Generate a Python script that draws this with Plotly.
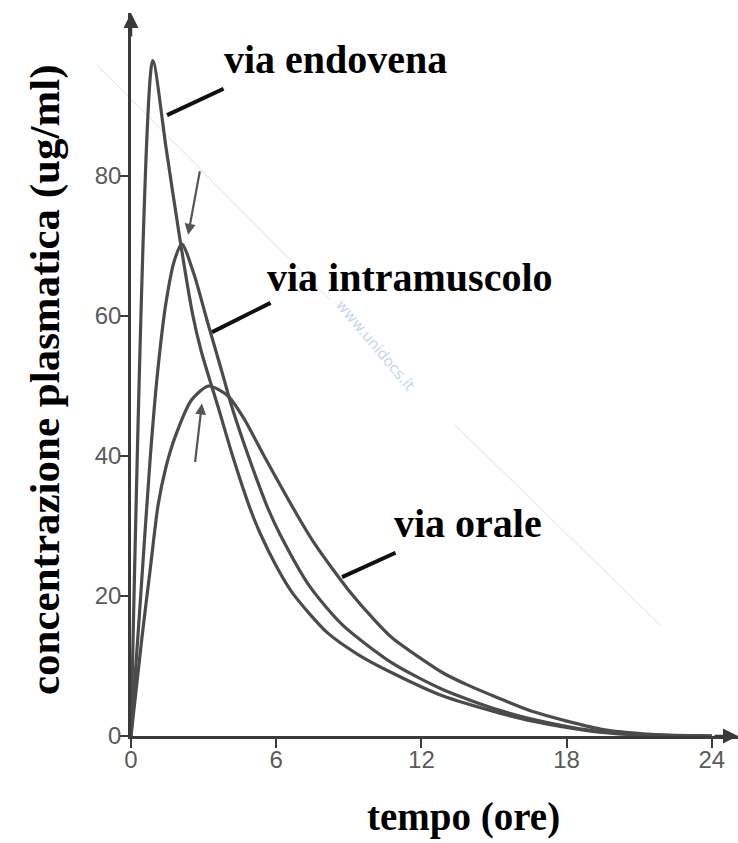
import plotly.graph_objects as go

# ---- data ----
t_iv = [0, 0.9, 1.45, 2.02, 2.56, 2.9, 3.26, 3.6, 4.2, 4.92, 5.33, 6.0, 6.7, 8.1, 9.4, 10.8, 12.9, 15.2, 16.6, 19.0, 21.0, 24.0]
c_iv = [0, 96.5, 84, 71, 60, 55, 50.8, 47, 40, 32.5, 29, 24.3, 20.3, 14.8, 11.6, 9.0, 5.7, 3.3, 2.1, 0.7, 0.15, 0]

t_im = [0, 0.4, 0.8, 1.1, 1.45, 1.8, 2.1, 2.6, 3.14, 3.8, 4.17, 4.9, 5.66, 6.16, 7.4, 8.76, 10.8, 12.9, 15.2, 16.6, 19.0, 21.0, 24.0]
c_im = [0, 20, 40, 52, 62, 68, 70.3, 66, 59.4, 51.5, 47, 39.5, 32.5, 28.8, 21.3, 15.8, 10.4, 6.6, 3.7, 2.4, 0.8, 0.2, 0]

t_or = [0, 0.45, 0.79, 1.12, 1.45, 1.82, 2.5, 3.2, 4.0, 4.71, 5.5, 6.98, 7.6, 8.3, 9.0, 10.0, 10.8, 12.9, 13.9, 15.2, 16.6, 19.4, 21.5, 24.0]
c_or = [0, 14, 23.7, 33, 38.5, 42.7, 48, 50, 48.6, 45.1, 40, 30.9, 27.4, 24.0, 20.8, 16.8, 14.0, 9.0, 7.3, 5.4, 3.5, 1.0, 0.25, 0]

x_ticks = [0, 6, 12, 18, 24]
y_ticks = [0, 20, 40, 60, 80]

labels = ["via endovena", "via intramuscolo", "via orale"]

# ---- figure geometry (body margin removed by post_script) ----
W, H = 738, 843
L, R, T, B = 131, 0, 13, 107
PW, PH = W - L - R, H - T - B
OX, OY = 0, 0
px_per_h = 24.2
px_per_u = 7.0

def px(xp):
    return (xp - OX - L) / PW

def py(yp):
    return (OY + T + PH - yp) / PH

line_col = "#4b4b4b"
fig = go.Figure()
for tt, cc, nm in [(t_iv, c_iv, labels[0]), (t_im, c_im, labels[1]), (t_or, c_or, labels[2])]:
    fig.add_trace(go.Scatter(x=tt, y=cc, mode="lines", name=nm,
                             line=dict(color=line_col, width=3.2, shape="spline", smoothing=0.7),
                             cliponaxis=False, showlegend=False))

tickfont = dict(family="Liberation Sans Narrow, Liberation Sans, Arial", size=24, color="#5a5a5a")
fig.update_layout(
    width=W, height=H,
    margin=dict(l=L, r=R, t=T, b=B),
    paper_bgcolor="white", plot_bgcolor="white",
    xaxis=dict(range=[0, PW / px_per_h], tickvals=x_ticks, ticktext=[str(v) for v in x_ticks],
               showgrid=False, zeroline=False, showline=True, linecolor="#3a3a3a", linewidth=2.5,
               ticks="outside", ticklen=9, tickwidth=2, tickcolor="#3a3a3a", tickfont=tickfont,
               ticklabelstandoff=-9),
    yaxis=dict(range=[0, PH / px_per_u], tickvals=y_ticks, ticktext=[str(v) for v in y_ticks],
               showgrid=False, zeroline=False, showline=True, linecolor="#3a3a3a", linewidth=2.5,
               ticks="outside", ticklen=8, tickwidth=2, tickcolor="#3a3a3a", tickfont=tickfont,
               ticklabelstandoff=-6),
)

serif = "Liberation Serif, Times New Roman, serif"
ann = []
# axis titles
ann.append(dict(text="<b>concentrazione plasmatica (ug/ml)</b>", xref="paper", yref="paper",
                x=px(45), y=py(380), textangle=-90, showarrow=False,
                xanchor="center", yanchor="middle",
                font=dict(family=serif, size=43, color="black")))
ann.append(dict(text="<b>tempo (ore)</b>", xref="paper", yref="paper",
                x=px(463), y=py(817), showarrow=False, xanchor="center", yanchor="middle",
                font=dict(family=serif, size=39, color="black")))
# curve labels
for txt, xp, yp in [(labels[0], 222, 60), (labels[1], 265, 277), (labels[2], 392, 523)]:
    ann.append(dict(text="<b>" + txt + "</b>", xref="paper", yref="paper", x=px(xp), y=py(yp),
                    xanchor="left", yanchor="middle", showarrow=False,
                    font=dict(family=serif, size=40, color="black")))
# pointer lines
for xd, yd, axp, ayp in [(1.49, 88.7, 58, -27), (3.35, 57.7, 60, -30), (8.72, 22.7, 55, -25)]:
    ann.append(dict(x=xd, y=yd, xref="x", yref="y", ax=axp, ay=ayp, axref="pixel", ayref="pixel",
                    text="", showarrow=True, arrowhead=0, arrowwidth=4, arrowcolor="#111"))
# small arrows to peaks
ann.append(dict(x=2.36, y=71.6, xref="x", yref="y", ax=12, ay=-65, text="", showarrow=True,
                arrowhead=2, arrowsize=1, arrowwidth=2.2, arrowcolor="#555"))
ann.append(dict(x=2.93, y=47.5, xref="x", yref="y", ax=-7, ay=60, text="", showarrow=True,
                arrowhead=2, arrowsize=1, arrowwidth=2.2, arrowcolor="#555"))
# axis arrowheads
ann.append(dict(x=0, y=PH / px_per_u, xref="x", yref="y", ax=0, ay=25, text="", showarrow=True,
                arrowhead=2, arrowsize=1.2, arrowwidth=2.5, arrowcolor="#3a3a3a"))
ann.append(dict(x=PW / px_per_h, y=0, xref="x", yref="y", ax=-25, ay=0, text="", showarrow=True,
                arrowhead=2, arrowsize=1.2, arrowwidth=2.5, arrowcolor="#3a3a3a"))
# watermark text
ann.append(dict(text="www.unidocs.it", xref="paper", yref="paper", x=px(375), y=py(345),
                textangle=50, showarrow=False,
                font=dict(family="DejaVu Sans", size=15, color="#c3d7ec")))
fig.update_layout(annotations=ann)

# faint watermark diagonal lines
for x0, y0, x1, y1 in [(97, 65, 330, 300), (455, 425, 660, 625)]:
    fig.add_shape(type="line", xref="paper", yref="paper", x0=px(x0), y0=py(y0), x1=px(x1), y1=py(y1),
                  line=dict(color="#d3e2f1", width=1), layer="below")

fig.write_html("out.html", config={"displayModeBar": False},
               post_script="document.body.style.margin='0px';document.body.style.overflow='hidden';")
